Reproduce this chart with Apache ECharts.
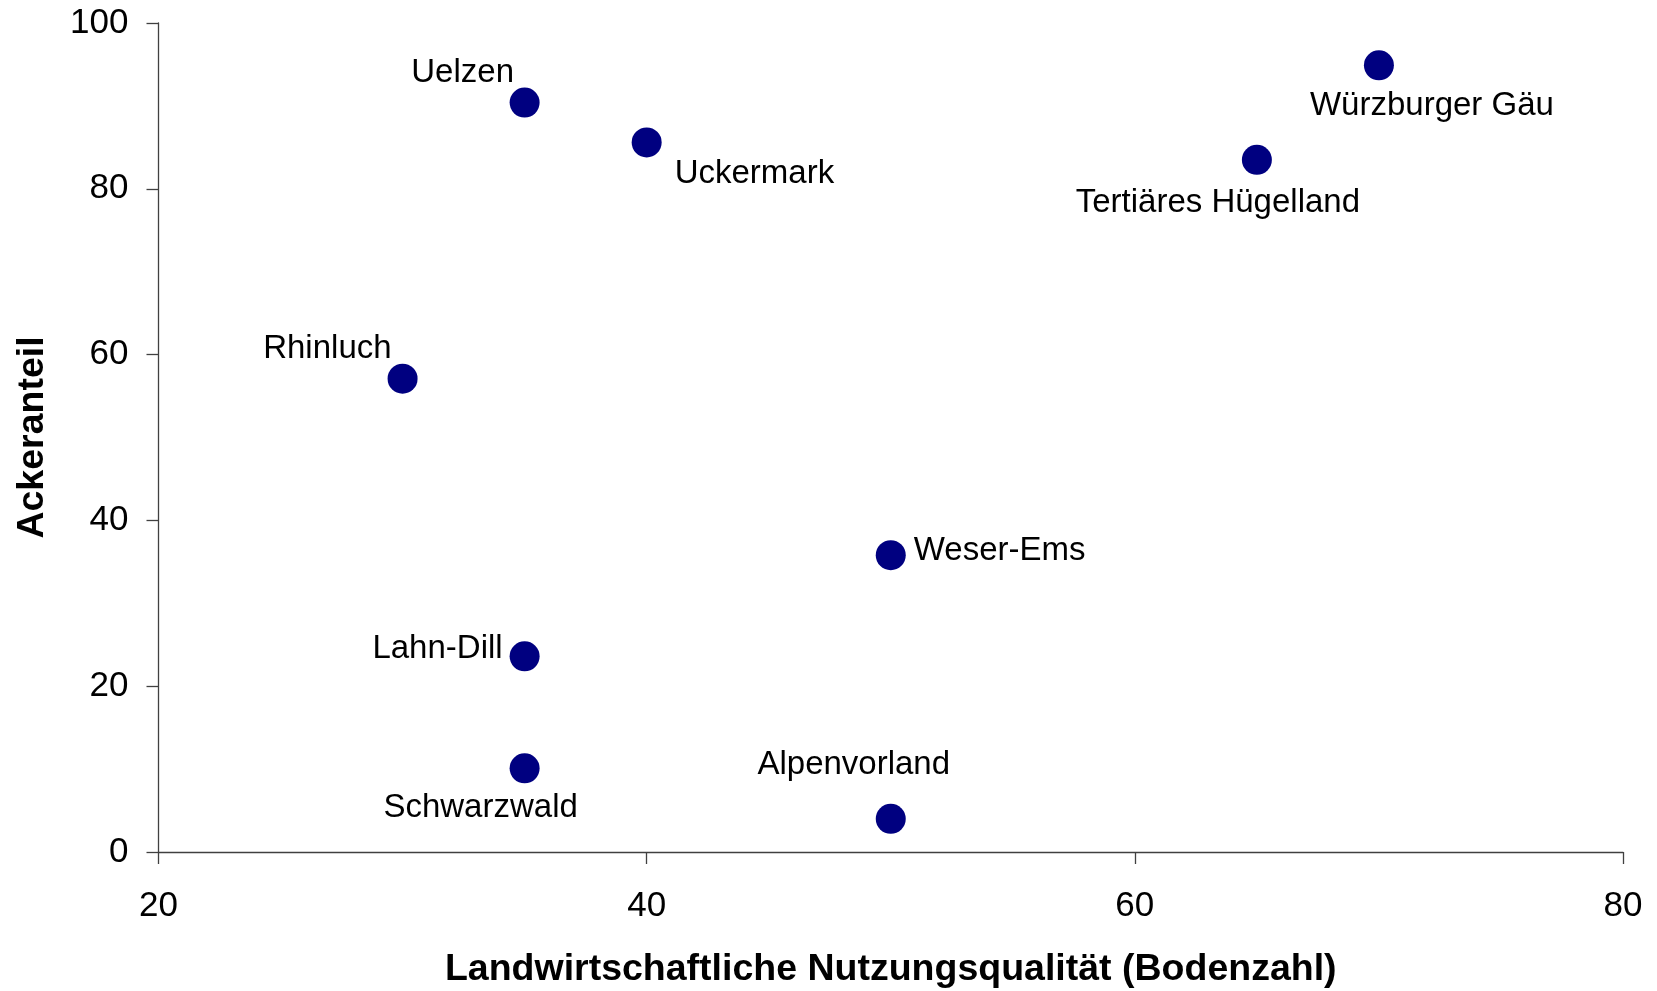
<!DOCTYPE html>
<html>
<head>
<meta charset="utf-8">
<script src="https://cdn.jsdelivr.net/npm/echarts@6/dist/echarts.min.js"></script>
<style>
html,body{margin:0;padding:0;background:#fff;}
#chart{width:1657px;height:991px;}
</style>
</head>
<body>
<div id="chart"></div>
<script>
// Data
const regions = ["Uelzen","Uckermark","Würzburger Gäu","Tertiäres Hügelland","Rhinluch","Weser-Ems","Lahn-Dill","Schwarzwald","Alpenvorland"];
const bodenzahl = [35, 40, 70, 65, 30, 50, 35, 35, 50];
const ackeranteil = [90.4, 85.6, 94.9, 83.5, 57.1, 35.8, 23.6, 10.1, 4.0];
const xTicks = [20, 40, 60, 80];
const yTicks = [0, 20, 40, 60, 80, 100];

// Label placement (style only)
const labelStyle = {
  "Uelzen": {align:"center", offset:[-62,-30]},
  "Uckermark": {align:"left", offset:[28,32]},
  "Würzburger Gäu": {align:"center", offset:[53,41]},
  "Tertiäres Hügelland": {align:"center", offset:[-39,43]},
  "Rhinluch": {align:"right", offset:[-11,-30]},
  "Weser-Ems": {align:"left", offset:[23,-4]},
  "Lahn-Dill": {align:"right", offset:[-22,-7]},
  "Schwarzwald": {align:"center", offset:[-44,40]},
  "Alpenvorland": {align:"center", offset:[-37,-54]}
};

const font = "'Liberation Sans', Arial, sans-serif";
const data = regions.map((n, i) => ({
  name: n,
  value: [bodenzahl[i], ackeranteil[i]],
  label: {
    show: true,
    position: "inside",
    formatter: n,
    align: labelStyle[n].align,
    verticalAlign: "middle",
    offset: labelStyle[n].offset,
    color: "#000",
    fontSize: 33,
    fontFamily: font
  }
}));

const chart = echarts.init(document.getElementById("chart"), null, {renderer: "canvas"});
chart.setOption({
  animation: false,
  backgroundColor: "#fff",
  grid: {left: 158.5, right: 34, top: 23, bottom: 139, containLabel: false, outerBoundsMode: "none"},
  xAxis: {
    type: "value",
    min: xTicks[0], max: xTicks[xTicks.length-1], interval: 20,
    name: "Landwirtschaftliche Nutzungsqualität (Bodenzahl)",
    nameLocation: "middle",
    nameGap: 99,
    nameTextStyle: {fontSize: 37.5, fontWeight: "bold", color: "#000", fontFamily: font},
    axisLine: {show: true, lineStyle: {color: "#404040", width: 1.3}},
    axisTick: {show: true, inside: false, length: 12, lineStyle: {color: "#404040", width: 1.3}},
    axisLabel: {fontSize: 35, color: "#000", fontFamily: font, margin: 37},
    splitLine: {show: false}
  },
  yAxis: {
    type: "value",
    min: yTicks[0], max: yTicks[yTicks.length-1], interval: 20,
    name: "Ackeranteil",
    nameLocation: "middle",
    nameGap: 107,
    nameRotate: 90,
    nameTextStyle: {fontSize: 37.5, fontWeight: "bold", color: "#000", fontFamily: font},
    axisLine: {show: true, lineStyle: {color: "#404040", width: 1.3}},
    axisTick: {show: true, inside: false, length: 12, lineStyle: {color: "#404040", width: 1.3}},
    axisLabel: {fontSize: 35, color: "#000", fontFamily: font, margin: 30},
    splitLine: {show: false}
  },
  series: [{
    type: "scatter",
    symbol: "circle",
    symbolSize: 30,
    itemStyle: {color: "#000080", opacity: 1},
    data: data
  }]
});
</script>
</body>
</html>
